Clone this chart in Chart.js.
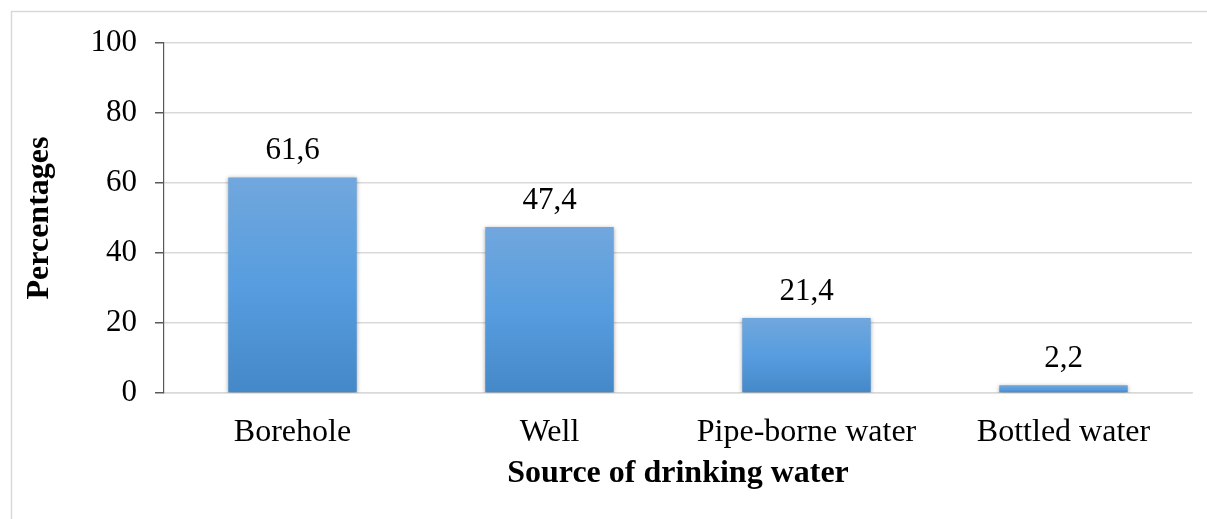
<!DOCTYPE html>
<html>
<head>
<meta charset="utf-8">
<script src="https://cdn.jsdelivr.net/npm/chart.js@4.4.1/dist/chart.umd.min.js"></script>
<style>
  html, body { margin: 0; padding: 0; background: #ffffff; }
  #wrap { width: 1207px; height: 519px; position: relative; }
</style>
</head>
<body>
<div id="wrap"><canvas id="c" width="1207" height="519"></canvas></div>
<script>
const categories = ["Borehole", "Well", "Pipe-borne water", "Bottled water"];
const percentages = [61.6, 47.4, 21.4, 2.2];
const yTicks = [0, 20, 40, 60, 80, 100];
const xTitle = "Source of drinking water";
const yTitle = "Percentages";

const FONT = "'Liberation Serif', 'Times New Roman', serif";

function barGradient(ctx) {
  const chart = ctx.chart;
  const area = chart.chartArea;
  if (!area || ctx.dataIndex === undefined) return '#5b9bd5';
  const yScale = chart.scales.y;
  const top = yScale.getPixelForValue(ctx.raw);
  const bottom = yScale.getPixelForValue(0);
  const g = chart.ctx.createLinearGradient(0, top, 0, bottom);
  g.addColorStop(0, '#71a7dd');
  g.addColorStop(0.5, '#579ddf');
  g.addColorStop(1, '#4588c8');
  return g;
}

const frame = {
  id: 'frame',
  beforeDraw(chart) {
    const c = chart.ctx;
    c.save();
    c.fillStyle = '#ffffff';
    c.fillRect(0, 0, chart.width, chart.height);
    c.strokeStyle = '#d9d9d9';
    c.lineWidth = 1.5;
    c.beginPath();
    c.moveTo(11.5, chart.height + 2);
    c.lineTo(11.5, 11.5);
    c.lineTo(chart.width + 2, 11.5);
    c.stroke();
    c.restore();
  }
};

const shadow = {
  id: 'shadow',
  beforeDatasetsDraw(chart) {
    const c = chart.ctx;
    c.save();
    c.shadowColor = 'rgba(0,0,0,0.35)';
    c.shadowBlur = 4;
    c.shadowOffsetX = 0;
    c.shadowOffsetY = 1;
  },
  afterDatasetsDraw(chart) {
    chart.ctx.restore();
  }
};

const valueLabels = {
  id: 'valueLabels',
  afterDatasetsDraw(chart) {
    const c = chart.ctx;
    const meta = chart.getDatasetMeta(0);
    c.save();
    c.font = "31px " + FONT;
    c.fillStyle = '#000000';
    c.textAlign = 'center';
    c.textBaseline = 'alphabetic';
    meta.data.forEach((bar, i) => {
      const v = chart.data.datasets[0].data[i];
      c.fillText(String(v).replace('.', ','), bar.x, bar.y - 18);
    });
    c.restore();
  }
};

new Chart(document.getElementById('c'), {
  type: 'bar',
  data: {
    labels: categories,
    datasets: [{
      data: percentages,
      backgroundColor: barGradient,
      borderWidth: 0,
      categoryPercentage: 1.0,
      barPercentage: 0.5
    }]
  },
  options: {
    responsive: false,
    animation: false,
    devicePixelRatio: 1,
    layout: { padding: { left: 11, right: 15, top: 43, bottom: 0 } },
    plugins: {
      legend: { display: false },
      tooltip: { enabled: false },
      title: { display: false }
    },
    scales: {
      x: {
        grid: { display: false, drawTicks: false },
        border: { display: true, color: '#d9d9d9', width: 1.5 },
        ticks: {
          font: { family: FONT, size: 32 },
          color: '#000000',
          padding: 20,
          maxRotation: 0,
          autoSkip: false
        },
        title: {
          display: true,
          text: xTitle,
          font: { family: FONT, size: 32, weight: 'bold' },
          color: '#000000',
          padding: { top: 0, bottom: 26 }
        },
        afterFit(scale) { scale.height = 126; }
      },
      y: {
        min: 0,
        max: 100,
        afterBuildTicks(scale) { scale.ticks = yTicks.map(v => ({ value: v })); },
        grid: {
          color: '#d9d9d9',
          lineWidth: 1.5,
          drawTicks: true,
          tickLength: 9,
          tickColor: '#595959'
        },
        border: { display: true, color: '#595959', width: 1.2 },
        ticks: {
          font: { family: FONT, size: 31 },
          color: '#000000',
          padding: 18
        },
        title: {
          display: true,
          text: yTitle,
          font: { family: FONT, size: 32, weight: 'bold' },
          color: '#000000',
          padding: { top: 10, bottom: 0 }
        },
        afterFit(scale) { scale.width = 153; }
      }
    }
  },
  plugins: [frame, shadow, valueLabels]
});
</script>
</body>
</html>
